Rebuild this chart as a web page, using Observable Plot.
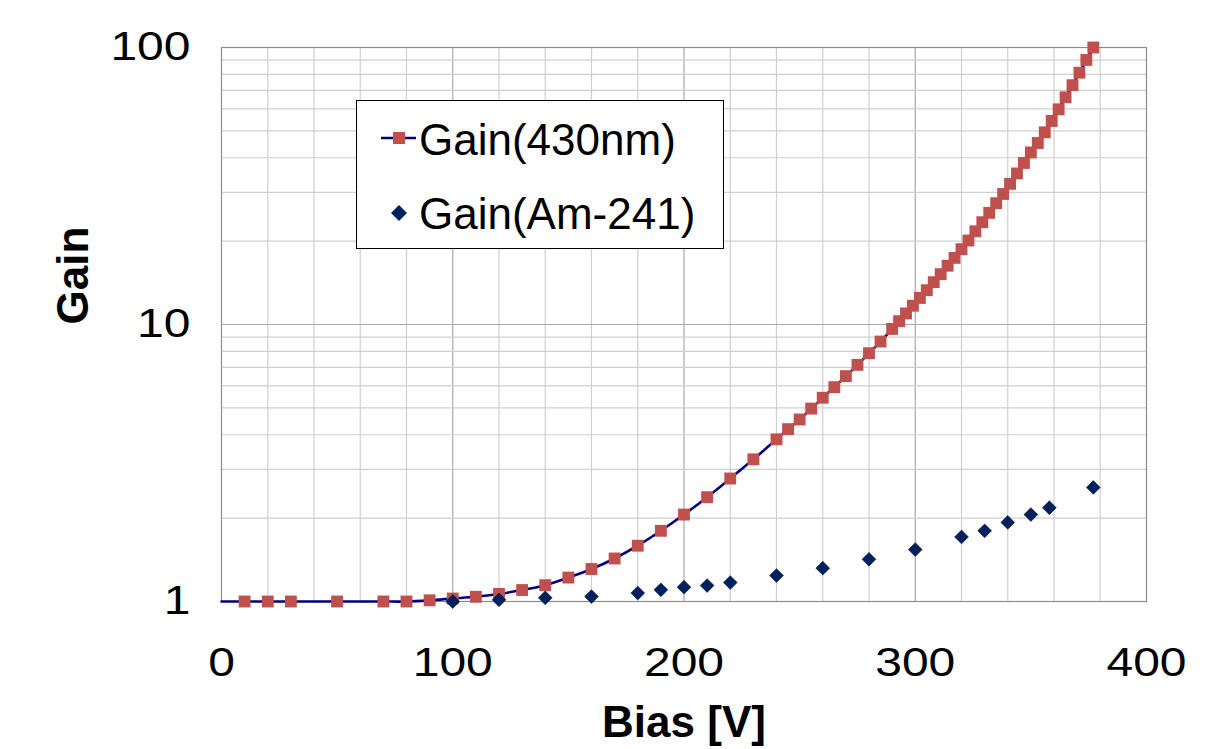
<!DOCTYPE html>
<html>
<head>
<meta charset="utf-8">
<script src="https://cdn.jsdelivr.net/npm/d3@7"></script>
<script src="https://cdn.jsdelivr.net/npm/@observablehq/plot@0.6"></script>
<style>
  html, body { margin: 0; padding: 0; background: #fff; overflow: hidden; }
  #wrap { position: relative; width: 1212px; height: 749px; }
  #legend { position: absolute; left: 356px; top: 100px; width: 366px; height: 147px;
            border: 1px solid #000; background: #fff;
            font-family: "Liberation Sans", Arial, sans-serif; font-size: 44px; color: #000; }
  #legend .lab { position: absolute; left: 62px; line-height: 44px; white-space: nowrap; }
  #legend svg { position: absolute; left: 0; top: 0; }
</style>
</head>
<body>
<div id="wrap">
  <div id="chart"></div>
  <div id="legend">
    <svg width="366" height="147">
      <line x1="24" y1="37" x2="59" y2="37" stroke="#000080" stroke-width="2.5"></line>
      <rect x="36" y="31" width="12" height="12" fill="#C0504D"></rect>
      <path d="M42,104 L50,112 L42,120 L34,112 Z" fill="#002060"></path>
    </svg>
    <span class="lab" style="top:17px">Gain(430nm)</span>
    <span class="lab" style="top:91px">Gain(Am-241)</span>
  </div>
</div>
<script>
// Gain(430nm): bias [V] and gain
const biasRed = [10,20,30,50,70,80,90,100,110,120,130,140,150,160,170,180,190,200,210,220,230,
  240,245,250,255,260,265,270,275,280,285,290,293,296,299,302,305,308,311,314,317,320,323,326,
  329,332,335,338,341,344,347,350,353,356,359,362,365,368,371,374,377];
const gainRed = [1.00,1.00,1.00,1.00,1.00,1.00,1.01,1.025,1.04,1.065,1.10,1.145,1.22,1.31,1.43,1.59,1.80,2.06,2.38,2.78,3.26,
  3.85,4.19,4.54,4.97,5.44,5.94,6.51,7.15,7.88,8.68,9.64,10.28,10.96,11.69,12.47,13.30,14.22,15.2,16.3,17.4,18.7,20.1,21.7,
  23.4,25.3,27.4,29.6,32.2,35.1,38.3,41.8,45.2,49.4,54.3,59.8,66.1,73.1,81.1,90.2,100];

// Smoothed line starts at the origin of the bias axis
const lineStartBias = [0];
const lineStartGain = [1.00];

// Gain(Am-241)
const biasAm = [100,120,140,160,180,190,200,210,220,240,260,280,300,320,330,340,350,358,377];
const gainAm = [1.00,1.014,1.031,1.042,1.073,1.102,1.126,1.142,1.171,1.241,1.319,1.42,1.54,1.71,1.80,1.93,2.06,2.18,2.58];

// Axis ticks and grid
const xTicks = [0,100,200,300,400];
const xGridMinor = [20,40,60,80,120,140,160,180,220,240,260,280,320,340,360,380];
const xGridMajor = [100,200,300];
const yTicks = [1,10,100];
const yGridMinor = [2,3,4,5,6,7,8,9,20,30,40,50,60,70,80,90];
const yGridMajor = [10];

const red = biasRed.map((b, i) => ({bias: b, gain: gainRed[i]}));
const am = biasAm.map((b, i) => ({bias: b, gain: gainAm[i]}));
const curve = lineStartBias.map((b, i) => ({bias: b, gain: lineStartGain[i]})).concat(red);

const font = '"Liberation Sans", Arial, sans-serif';

const chart = Plot.plot({
  width: 1212,
  height: 749,
  marginLeft: 221,
  marginRight: 66,
  marginTop: 47,
  marginBottom: 148,
  style: {fontFamily: font, background: "#fff", color: "#000"},
  x: {domain: [0, 400]},
  y: {type: "log", domain: [1, 100]},
  marks: [
    Plot.ruleX(xGridMinor, {stroke: "#cfcfcf", strokeWidth: 1.2}),
    Plot.ruleX(xGridMajor, {stroke: "#a8a8a8", strokeWidth: 1.2}),
    Plot.ruleY(yGridMinor, {stroke: "#cfcfcf", strokeWidth: 1.2}),
    Plot.ruleY(yGridMajor, {stroke: "#a8a8a8", strokeWidth: 1.2}),
    Plot.frame({stroke: "#8c8c8c", strokeWidth: 1.2}),
    Plot.axisX(xTicks, {tickSize: 0, tickPadding: 46, fontSize: 40, label: null, tickFormat: d => String(d)}),
    Plot.axisY(yTicks, {tickSize: 0, tickPadding: 31, fontSize: 40, label: null, tickFormat: d => String(d)}),
    Plot.text(["Bias [V]"], {frameAnchor: "bottom", lineAnchor: "middle", dy: 121, fontSize: 44, fontWeight: "bold"}),
    Plot.text(["Gain"], {frameAnchor: "left", lineAnchor: "middle", rotate: -90, dx: -148, fontSize: 44, fontWeight: "bold"}),
    Plot.line(curve, {x: "bias", y: "gain", stroke: "#000080", strokeWidth: 2.6, curve: "catmull-rom"}),
    Plot.dot(red, {x: "bias", y: "gain", symbol: "square", r: 6.7, fill: "#C0504D", stroke: null}),
    Plot.dot(am, {x: "bias", y: "gain", symbol: "diamond2", r: 6.2, fill: "#002060", stroke: "#001030", strokeWidth: 0.6})
  ]
});
// The reference tick labels are drawn with a horizontally widened face
chart.querySelectorAll('g[aria-label="x-axis tick label"] text, g[aria-label="y-axis tick label"] text')
  .forEach(t => t.setAttribute("transform", (t.getAttribute("transform") || "") + " scale(1.2,1)"));
document.getElementById("chart").appendChild(chart);
</script>
</body>
</html>
